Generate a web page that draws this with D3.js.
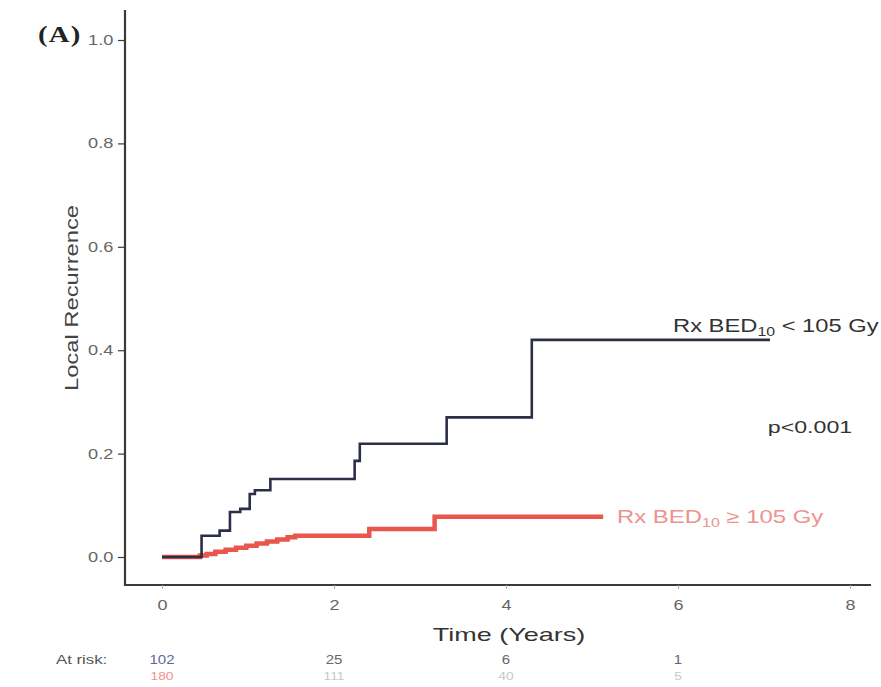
<!DOCTYPE html>
<html>
<head>
<meta charset="utf-8">
<script src="https://cdn.jsdelivr.net/npm/d3@7/dist/d3.min.js"></script>
<style>
  html, body { margin: 0; padding: 0; background: #fff; }
  svg { display: block; }
</style>
</head>
<body>
<svg id="chart" width="881" height="687"></svg>
<script>
// Cumulative incidence of local recurrence, step points [years, probability]
const lowBedSteps = [
  [0, 0], [0.46, 0.041], [0.67, 0.051], [0.79, 0.087], [0.91, 0.093],
  [1.02, 0.122], [1.08, 0.129], [1.26, 0.151], [2.24, 0.186], [2.30, 0.219],
  [3.31, 0.270], [4.30, 0.420], [7.07, 0.420]
];
const highBedSteps = [
  [0, 0], [0.44, 0.003], [0.52, 0.006], [0.62, 0.010], [0.74, 0.014],
  [0.86, 0.018], [0.98, 0.022], [1.10, 0.026], [1.22, 0.030], [1.34, 0.034],
  [1.46, 0.038], [1.55, 0.041], [2.41, 0.054], [3.17, 0.078], [5.13, 0.078]
];

const xTicks = [0, 2, 4, 6, 8];
const yTicks = [0, 0.2, 0.4, 0.6, 0.8, 1.0];
const atRiskLow = ["102", "25", "6", "1"];
const atRiskHigh = ["180", "111", "40", "5"];
const atRiskTimes = [0, 2, 4, 6];

const svg = d3.select("#chart");
const sans = "Liberation Sans, Arial, sans-serif";

const x = d3.scaleLinear().domain([0, 8]).range([162, 850]);
const y = d3.scaleLinear().domain([0, 1]).range([557, 40]);

const axisColor = "#3a3a3a";
const tickTextColor = "#666";

// Text placed at (px, py) and widened horizontally by sx
function wideText(px, py, sx, rotate) {
  return svg.append("text")
    .attr("transform", `translate(${px},${py})` + (rotate ? ` rotate(${rotate})` : "") + ` scale(${sx},1)`);
}

// Axis frame (L-shaped)
svg.append("line")
  .attr("x1", 125).attr("x2", 125).attr("y1", 10).attr("y2", 586)
  .attr("stroke", axisColor).attr("stroke-width", 2.2);
svg.append("line")
  .attr("x1", 124).attr("x2", 871).attr("y1", 585).attr("y2", 585)
  .attr("stroke", axisColor).attr("stroke-width", 2.2);

// Y axis
const yAxis = d3.axisLeft(y).tickValues(yTicks).tickFormat(d3.format(".1f")).tickSize(7).tickPadding(2);
const gy = svg.append("g").attr("transform", "translate(125,0)").call(yAxis);
gy.select(".domain").remove();
gy.selectAll(".tick line").attr("stroke", axisColor).attr("stroke-width", 1.2);
gy.selectAll(".tick text")
  .attr("fill", tickTextColor)
  .attr("transform", "scale(1.3,1)")
  .style("font-family", sans)
  .style("font-size", "14px");

// X axis
const xAxis = d3.axisBottom(x).tickValues(xTicks).tickFormat(d3.format("d")).tickSize(4).tickPadding(10);
const gx = svg.append("g").attr("transform", "translate(0,585)").call(xAxis);
gx.select(".domain").remove();
gx.selectAll(".tick line").attr("stroke", "#aaa").attr("stroke-width", 1);
gx.selectAll(".tick text")
  .attr("fill", tickTextColor)
  .attr("transform", "scale(1.2,1)")
  .style("font-family", sans)
  .style("font-size", "15px");

// Axis titles
wideText(78, 298, 1.25, -90)
  .attr("text-anchor", "middle")
  .attr("fill", "#444")
  .style("font-family", sans)
  .style("font-size", "19px")
  .text("Local Recurrence");

wideText(509, 641, 1.5, 0)
  .attr("text-anchor", "middle")
  .attr("fill", "#333")
  .style("font-family", sans)
  .style("font-size", "18px")
  .text("Time (Years)");

// Panel label
wideText(38, 42, 1.25, 0)
  .attr("fill", "#222")
  .style("font-family", "Liberation Serif, Times New Roman, serif")
  .style("font-weight", "bold")
  .style("font-size", "23px")
  .style("letter-spacing", "1px")
  .text("(A)");

// Step curves
const stepLine = d3.line()
  .x(d => x(d[0]))
  .y(d => y(d[1]))
  .curve(d3.curveStepAfter);

svg.append("path")
  .datum(highBedSteps)
  .attr("d", stepLine)
  .attr("fill", "none")
  .attr("stroke", "#e8564c")
  .attr("stroke-width", 4.5);

svg.append("path")
  .datum(lowBedSteps)
  .attr("d", stepLine)
  .attr("fill", "none")
  .attr("stroke", "#2c2f48")
  .attr("stroke-width", 2.6);

// Curve labels
const lowLabel = wideText(673, 332, 1.32, 0)
  .attr("fill", "#333")
  .style("font-family", sans)
  .style("font-size", "18px");
lowLabel.append("tspan").text("Rx BED");
lowLabel.append("tspan").attr("dy", 4).style("font-size", "12px").text("10");
lowLabel.append("tspan").attr("dy", -4).text(" < 105 Gy");

const highLabel = wideText(617, 523, 1.33, 0)
  .attr("fill", "#ee9290")
  .style("font-family", sans)
  .style("font-size", "18px");
highLabel.append("tspan").text("Rx BED");
highLabel.append("tspan").attr("dy", 4).style("font-size", "12px").text("10");
highLabel.append("tspan").attr("dy", -4).text(" \u2265 105 Gy");

// p-value
wideText(810, 433, 1.45, 0)
  .attr("text-anchor", "middle")
  .attr("fill", "#333")
  .style("font-family", sans)
  .style("font-size", "16px")
  .text("p<0.001");

// Numbers at risk
wideText(56, 664, 1.4, 0)
  .attr("fill", "#555")
  .style("font-family", sans)
  .style("font-size", "12px")
  .text("At risk:");

atRiskLow.forEach((d, i) => {
  wideText(x(atRiskTimes[i]), 664, 1.25, 0)
    .attr("text-anchor", "middle")
    .attr("fill", i === 0 ? "#5a6a9a" : "#666")
    .style("font-family", sans)
    .style("font-size", "12px")
    .text(d);
});

atRiskHigh.forEach((d, i) => {
  wideText(x(atRiskTimes[i]), 680, 1.25, 0)
    .attr("text-anchor", "middle")
    .attr("fill", i === 0 ? "#f09090" : "#c8c8c8")
    .style("font-family", sans)
    .style("font-size", "11px")
    .text(d);
});
</script>
</body>
</html>
